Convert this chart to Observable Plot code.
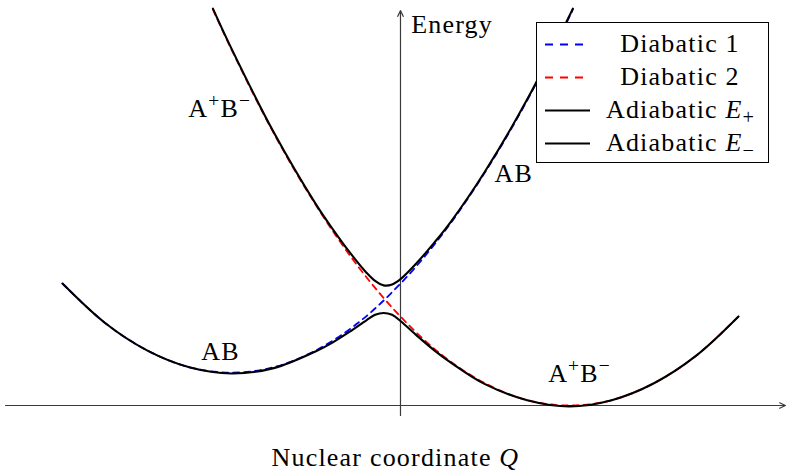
<!DOCTYPE html>
<html>
<head>
<meta charset="utf-8">
<script src="https://cdn.jsdelivr.net/npm/d3@7"></script>
<script src="https://cdn.jsdelivr.net/npm/@observablehq/plot@0.6"></script>
<style>
  html, body { margin: 0; padding: 0; background: #fff; }
  #wrap { position: relative; width: 790px; height: 473px; font-family: "Liberation Serif", serif; }
  #legend {
    position: absolute; left: 536px; top: 22px; width: 231px; height: 139px;
    border: 1px solid #000; background: #fff; box-sizing: content-box;
    font-size: 26px; color: #000;
  }
  .row { position: absolute; left: 0; width: 231px; height: 33px; }
  .row svg { position: absolute; left: 8px; top: 0; }
  .row span { position: absolute; left: 56px; width: 174px; text-align: center; top: 2px; line-height: 28px; letter-spacing: 1.2px; white-space: nowrap; }
  sub { font-size: 78%; vertical-align: -0.28em; line-height: 0; letter-spacing: 0; }
</style>
</head>
<body>
<div id="wrap"></div>
<script>
// Diabatic state 1 (AB), blue
const qDia1 = [-2, -1.75, -1.5, -1.25, -1, -0.75, -0.5, -0.25, 0, 0.25, 0.5, 0.75, 1, 1.02];
const eDia1 = [1.37, 0.93, 0.62, 0.43, 0.37, 0.43, 0.62, 0.93, 1.37, 1.93, 2.62, 3.43, 4.37, 4.45];

// Diabatic state 2 (A+B-), red
const qDia2 = [-1.11, -1, -0.75, -0.5, -0.25, 0, 0.25, 0.5, 0.75, 1, 1.25, 1.5, 1.75, 2];
const eDia2 = [4.45, 4.0, 3.06, 2.25, 1.56, 1.0, 0.56, 0.25, 0.06, 0, 0.06, 0.25, 0.56, 1.0];

// Upper adiabatic surface E+
const qUpper = [-1.11, -1, -0.75, -0.5, -0.4, -0.3, -0.2, -0.15, -0.1, -0.05, 0, 0.1, 0.2, 0.3, 0.5, 0.75, 1, 1.02];
const eUpper = [4.46, 4.01, 3.07, 2.26, 1.98, 1.72, 1.49, 1.40, 1.35, 1.36, 1.42, 1.61, 1.83, 2.07, 2.63, 3.44, 4.38, 4.46];

// Lower adiabatic surface E-
const qLower = [-2, -1.75, -1.5, -1.25, -1, -0.75, -0.5, -0.4, -0.3, -0.2, -0.15, -0.1, -0.05, 0, 0.1, 0.2, 0.3, 0.5, 0.75, 1, 1.25, 1.5, 1.75, 2];
const eLower = [1.37, 0.93, 0.62, 0.43, 0.36, 0.42, 0.61, 0.71, 0.83, 0.96, 1.02, 1.04, 1.02, 0.95, 0.78, 0.62, 0.48, 0.24, 0.06, -0.01, 0.06, 0.25, 0.56, 1.0];

// Axis extents (Q along the bottom, energy up the middle)
const qAxisExtent = [-2.337, 2.278];
const eAxisExtent = [-0.112, 4.438];

// Curve annotations
const labelText = ["A^{+}B^{−}", "AB", "AB", "A^{+}B^{−}"];
const labelQ = [-1.07, 0.67, -1.065, 1.06];
const labelE = [3.24, 2.51, 0.51, 0.26];

// Axis titles
const energyTitle = "Energy";
const energyTitlePos = [0.063, 4.19];
const qTitle = "Nuclear coordinate $Q$";
const qTitlePos = [-0.03, -0.685];

// Legend entries
const legendNames = ["Diabatic 1", "Diabatic 2", "Adiabatic <i>E</i><sub>+</sub>", "Adiabatic <i>E</i><sub>−</sub>"];
const legendColors = ["#0000ff", "#ff0000", "#000000", "#000000"];
const legendDashed = [true, true, false, false];

const zip = (qs, es) => qs.map((q, i) => ({q, e: es[i]}));
const labels = labelText.map((t, i) => ({t, q: labelQ[i], e: labelE[i]}));

const font = "Liberation Serif, serif";
const textStyle = {fontSize: 26, fontFamily: font, fill: "#000", lineAnchor: "bottom"};

const chart = Plot.plot({
  width: 790,
  height: 473,
  margin: 0,
  x: {domain: [-2.367, 2.308], axis: null},
  y: {domain: [-0.764, 4.551], axis: null},
  style: {background: "#fff"},
  marks: [
    Plot.arrow([{}], {x1: qAxisExtent[0], x2: qAxisExtent[1], y1: 0, y2: 0,
      stroke: "#3a3a3a", strokeWidth: 1.2, headLength: 8, headAngle: 50}),
    Plot.arrow([{}], {x1: 0, x2: 0, y1: eAxisExtent[0], y2: eAxisExtent[1],
      stroke: "#3a3a3a", strokeWidth: 1.2, headLength: 8, headAngle: 50}),
    Plot.line(zip(qDia1, eDia1), {x: "q", y: "e", stroke: "#0000ff", strokeWidth: 1.8,
      strokeDasharray: "6,5", curve: "catmull-rom"}),
    Plot.line(zip(qDia2, eDia2), {x: "q", y: "e", stroke: "#ff0000", strokeWidth: 1.8,
      strokeDasharray: "6,5", curve: "catmull-rom"}),
    Plot.line(zip(qUpper, eUpper), {x: "q", y: "e", stroke: "#000", strokeWidth: 2.1, curve: "catmull-rom"}),
    Plot.line(zip(qLower, eLower), {x: "q", y: "e", stroke: "#000", strokeWidth: 2.1, curve: "catmull-rom"}),
    Plot.text(labels, {x: "q", y: "e", text: "t", textAnchor: "middle", ...textStyle}),
    Plot.text([energyTitle], {x: energyTitlePos[0], y: energyTitlePos[1], text: d => d, textAnchor: "start", ...textStyle}),
    Plot.text([qTitle], {x: qTitlePos[0], y: qTitlePos[1], text: d => d, textAnchor: "middle", ...textStyle})
  ]
});

// Turn ^{..} into superscripts and $..$ into italics
d3.select(chart).selectAll("text").each(function () {
  const t = this.textContent;
  if (!/[\^$]/.test(t)) return;
  const el = d3.select(this);
  el.text("");
  const re = /\^\{([^}]*)\}|\$([^$]*)\$|([^\^$]+)/g;
  let m, shift = 0;
  while ((m = re.exec(t))) {
    if (m[1] !== undefined) {
      el.append("tspan").attr("dy", -10).attr("font-size", "75%").text(m[1]);
      shift = 10;
    } else {
      const ts = el.append("tspan");
      if (shift) { ts.attr("dy", shift); shift = 0; }
      if (m[2] !== undefined) ts.attr("font-style", "italic").text(m[2]);
      else ts.text(m[3]);
    }
  }
});
d3.select(chart).selectAll("text").attr("letter-spacing", "1.2px");

const wrap = document.getElementById("wrap");
wrap.appendChild(chart);

// Legend box
const legend = document.createElement("div");
legend.id = "legend";
legendNames.forEach((name, i) => {
  const row = document.createElement("div");
  row.className = "row";
  row.style.top = (5 + i * 33) + "px";
  const dash = legendDashed[i] ? 'stroke-dasharray="8,7"' : "";
  const len = legendDashed[i] ? 39 : 45;
  row.innerHTML = `<svg width="50" height="33"><line x1="0" x2="${len}" y1="16.5" y2="16.5" stroke="${legendColors[i]}" stroke-width="${legendDashed[i] ? 1.8 : 2.1}" ${dash}/></svg><span>${name}</span>`;
  legend.appendChild(row);
});
wrap.appendChild(legend);
</script>
</body>
</html>
